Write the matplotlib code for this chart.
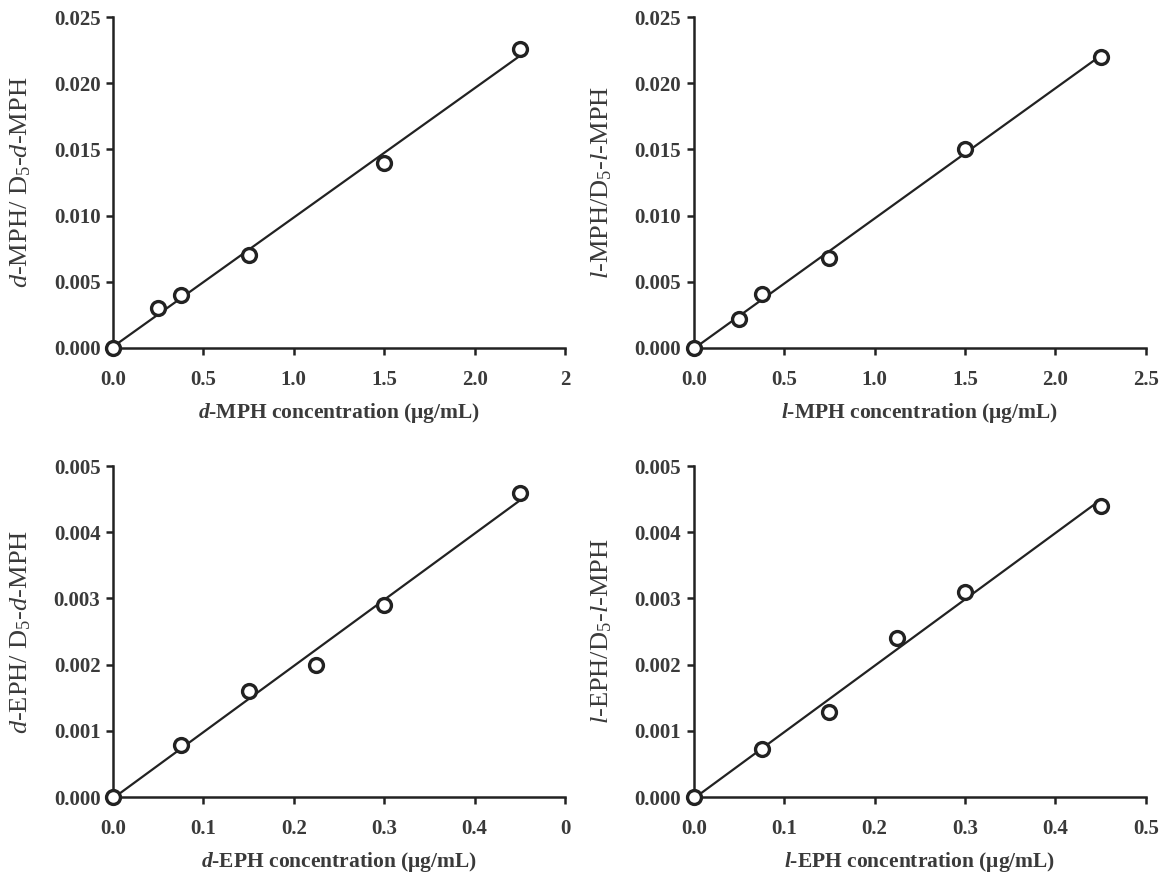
import numpy as np
import matplotlib
matplotlib.use("Agg")
import matplotlib.pyplot as plt

plt.rcParams['font.family'] = ['Liberation Serif', 'DejaVu Serif']
plt.rcParams['mathtext.fontset'] = 'custom'
plt.rcParams['mathtext.rm'] = 'Liberation Serif'
plt.rcParams['mathtext.it'] = 'Liberation Serif:italic'
plt.rcParams['mathtext.bf'] = 'Liberation Serif:bold'
plt.rcParams['mathtext.bfit'] = 'Liberation Serif:bold:italic'

# concentraçoes (ug/mL) e razoes de area
x_mph = [0, 0.25, 0.375, 0.75, 1.5, 2.25]
y_dmph = [0, 0.0030, 0.0040, 0.0070, 0.0140, 0.0226]
y_lmph = [0, 0.0022, 0.0041, 0.0068, 0.0150, 0.0220]

x_eph = [0, 0.075, 0.15, 0.225, 0.30, 0.45]
y_deph = [0, 0.00078, 0.0016, 0.0020, 0.0029, 0.0046]
y_leph = [0, 0.00072, 0.00128, 0.0024, 0.0031, 0.0044]

mph_xticks = [0, 0.5, 1.0, 1.5, 2.0, 2.5]
eph_xticks = [0, 0.1, 0.2, 0.3, 0.4, 0.5]
mph_yticks = [0, 0.005, 0.010, 0.015, 0.020, 0.025]
eph_yticks = [0, 0.001, 0.002, 0.003, 0.004, 0.005]

paineis = [
    # x, y, xticks, rotulos x, yticks, xlabel, ylabel, posicao
    (x_mph, y_dmph, mph_xticks, ['0.0', '0.5', '1.0', '1.5', '2.0', '2'], mph_yticks,
     r'$\mathbfit{d}$-MPH concentration (μg/mL)', r'$\mathit{d}$-MPH/ D$_5$-$\mathit{d}$-MPH',
     [0.0964, 0.605, 0.3857, 0.3757]),
    (x_mph, y_lmph, mph_xticks, ['0.0', '0.5', '1.0', '1.5', '2.0', '2.5'], mph_yticks,
     r'$\mathbfit{l}$-MPH concentration (μg/mL)', r'$\mathit{l}$-MPH/D$_5$-$\mathit{l}$-MPH',
     [0.592, 0.605, 0.3857, 0.3757]),
    (x_eph, y_deph, eph_xticks, ['0.0', '0.1', '0.2', '0.3', '0.4', '0'], eph_yticks,
     r'$\mathbfit{d}$-EPH concentration (μg/mL)', r'$\mathit{d}$-EPH/ D$_5$-$\mathit{d}$-MPH',
     [0.0964, 0.0953, 0.3857, 0.3757]),
    (x_eph, y_leph, eph_xticks, ['0.0', '0.1', '0.2', '0.3', '0.4', '0.5'], eph_yticks,
     r'$\mathbfit{l}$-EPH concentration (μg/mL)', r'$\mathit{l}$-EPH/D$_5$-$\mathit{l}$-MPH',
     [0.592, 0.0953, 0.3857, 0.3757]),
]

fig = plt.figure(figsize=(11.72, 8.81), dpi=100)

for xs, ys, xt, xtl, yt, xl, yl, pos in paineis:
    ax = fig.add_axes(pos)
    xs = np.array(xs)
    ys = np.array(ys)
    # reta de regressao
    a, b = np.polyfit(xs, ys, 1)
    xr = np.array([0, xs.max()])
    ax.plot(xr, a * xr + b, color='#222222', lw=1.6, clip_on=False)
    ax.plot(xs, ys, 'o', ms=10, mfc='white', mec='#222222', mew=2.4, clip_on=False, zorder=5)
    ax.set_xlim(xt[0], xt[-1])
    ax.set_ylim(yt[0], yt[-1])
    ax.set_xticks(xt)
    ax.set_xticklabels(xtl)
    ax.set_yticks(yt)
    ax.set_yticklabels(['%.3f' % v for v in yt])
    for s in ['top', 'right']:
        ax.spines[s].set_visible(False)
    for s in ['left', 'bottom']:
        ax.spines[s].set_linewidth(1.8)
        ax.spines[s].set_color('#222222')
    ax.tick_params(width=1.8, length=5, color='#222222', labelsize=15)
    ax.tick_params(axis='y', pad=4)
    ax.tick_params(axis='x', pad=11)
    for t in ax.get_xticklabels() + ax.get_yticklabels():
        t.set_fontweight('bold')
        t.set_color('#3a3a3a')
    ax.set_xlabel(xl, fontsize=15.5, fontweight='bold', color='#3a3a3a', labelpad=8)
    ax.set_ylabel(yl, fontsize=19, color='#3a3a3a', labelpad=15)

fig.savefig('out.png', dpi=100)
